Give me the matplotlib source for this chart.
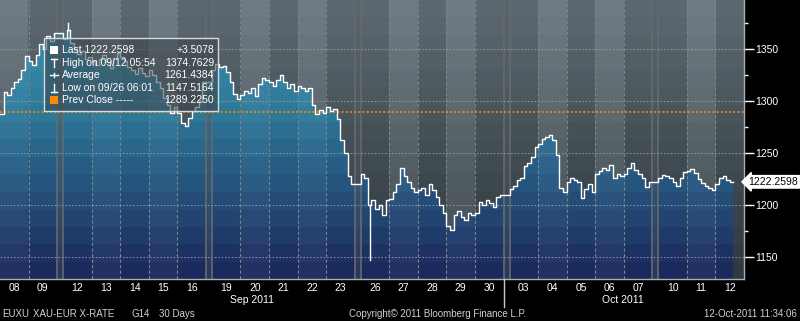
import numpy as np
import pandas as pd
import matplotlib.pyplot as plt
from matplotlib.lines import Line2D
from matplotlib.patches import Rectangle
from matplotlib.colors import to_rgb
import matplotlib.transforms as mtrans

plt.rcParams['font.family'] = ['Liberation Sans', 'DejaVu Sans']

# trading days on the chart
dates = pd.to_datetime([
    '2011-09-08', '2011-09-09',
    '2011-09-12', '2011-09-13', '2011-09-14', '2011-09-15', '2011-09-16',
    '2011-09-19', '2011-09-20', '2011-09-21', '2011-09-22', '2011-09-23',
    '2011-09-26', '2011-09-27', '2011-09-28', '2011-09-29', '2011-09-30',
    '2011-10-03', '2011-10-04', '2011-10-05', '2011-10-06', '2011-10-07',
    '2011-10-10', '2011-10-11', '2011-10-12'])

# 3-hour closes, one list per day
closes = [
    [1287, 1309, 1306, 1312, 1318, 1321, 1330, 1343],
    [1338, 1335, 1344, 1355, 1350, 1362, 1358, 1365],
    [1360, 1368, 1356, 1350, 1345, 1348, 1340, 1342],
    [1338, 1335, 1340, 1344, 1337, 1332, 1341, 1346],
    [1342, 1338, 1333, 1330, 1326, 1332, 1327, 1324],
    [1330, 1325, 1318, 1312, 1303, 1296, 1288, 1294],
    [1288, 1279, 1276, 1284, 1290, 1294, 1300, 1318],
    [1330, 1336, 1333, 1334, 1328, 1318, 1307, 1302],
    [1306, 1310, 1308, 1312, 1305, 1316, 1322, 1320],
    [1318, 1314, 1320, 1325, 1318, 1312, 1316, 1310],
    [1314, 1312, 1310, 1312, 1296, 1287, 1291, 1288],
    [1294, 1290, 1292, 1283, 1262, 1250, 1228, 1220],
    [1230, 1226, 1200, 1205, 1196, 1200, 1190, 1205],
    [1206, 1212, 1220, 1236, 1228, 1222, 1216, 1212],
    [1214, 1216, 1210, 1220, 1214, 1208, 1200, 1192],
    [1180, 1176, 1190, 1194, 1188, 1186, 1192, 1190],
    [1192, 1203, 1200, 1205, 1202, 1198, 1208, 1210],
    [1215, 1218, 1224, 1226, 1237, 1240, 1246, 1256],
    [1259, 1263, 1265, 1267, 1262, 1248, 1216, 1212],
    [1222, 1226, 1224, 1222, 1207, 1215, 1220, 1212],
    [1230, 1233, 1236, 1234, 1238, 1226, 1230, 1228],
    [1230, 1236, 1240, 1234, 1230, 1226, 1217, 1222],
    [1226, 1229, 1228, 1226, 1222, 1218, 1226, 1232],
    [1233, 1235, 1231, 1225, 1221, 1218, 1216, 1214],
    [1220, 1226, 1228, 1224, 1222.2598],
]

# extremes from the legend: (day index, bar index, value)
ext_day = [2, 12]
ext_bar = [1, 2]
ext_val = [1374.7629, 1147.5164]

prev_close = 1289.225
last_val = 1222.2598

legend_labels = ['Last 1222.2598', 'High on 09/12 05:54', 'Average',
                 'Low on 09/26 06:01', 'Prev Close -----']
legend_values = ['+3.5078', '1374.7629', '1261.4384', '1147.5164', '1289.2250']

y_major = [1150, 1200, 1250, 1300, 1350]
y_minor = [1175, 1225, 1275, 1325, 1375]

BARS = 8
GAP = 0.21  # weekend gap, in days
W, H = 800, 321


def fx(px):
    return px / W


def fy(py):
    return 1 - py / H


def ramp(stops, t):
    pos = [s[0] for s in stops]
    cols = np.array([to_rgb(s[1]) for s in stops])
    return np.stack([np.interp(t, pos, cols[:, c]) for c in range(3)], axis=-1)


# day start positions (weekends leave a small gap)
starts = []
s = 0.0
for i, d in enumerate(dates):
    if i > 0 and (d - dates[i - 1]).days > 1:
        s += GAP
    starts.append(s)
    s += 1
starts = np.array(starts)
xmax = starts[-1] + 1
ylo, yhi = 1128.8, 1397.1

# step line points
xs, ys = [], []
for k, vals in enumerate(closes):
    for j, v in enumerate(vals):
        xs.append(starts[k] + j / BARS)
        ys.append(v)
xs.append(xs[-1] + 1 / BARS)
ys.append(ys[-1])
xs = np.array(xs)
ys = np.array(ys)

fig = plt.figure(figsize=(W / 100, H / 100), dpi=100, facecolor='black')
ax = fig.add_axes([0, 42 / H, 744 / W, 279 / H])
ax.set_facecolor('black')
ax.set_xlim(0, xmax)
ax.set_ylim(ylo, yhi)

# column classes for the background images
nx = 1490
xg = (np.arange(nx) + 0.5) / nx * xmax
light = np.zeros(nx)
gap = np.ones(nx, dtype=bool)
for k, d in enumerate(dates):
    inside = (xg >= starts[k]) & (xg < starts[k] + 1)
    gap[inside] = False
    if d.dayofweek in (1, 3):
        light[inside] = 1

nb = 16
t = (np.arange(nb) + 0.5) / nb
bg = ramp([(0, '#5e6a72'), (0.5, '#454f56'), (1, '#2e383e')], t)
bg_img = bg[:, None, :] + light[None, :, None] * 0.075
bg_img[:, gap, :] = bg_img[:, gap, :] * 0.75 + np.array(to_rgb('#555d62')) * 0.25
ax.imshow(np.clip(bg_img, 0, 1), extent=(0, xmax, ylo, yhi), aspect='auto',
          interpolation='nearest', origin='upper', zorder=0)

fl = ramp([(0, '#3d98b4'), (0.4, '#2e7898'), (0.65, '#26567f'), (1, '#1b2659')], t)
fl_img = fl[:, None, :] + light[None, :, None] * 0.025
fl_img[:, gap, :] = fl_img[:, gap, :] * 0.7 + np.array(to_rgb('#4f575d')) * 0.3
im = ax.imshow(np.clip(fl_img, 0, 1), extent=(0, xmax, ylo, yhi), aspect='auto',
               interpolation='nearest', origin='upper', zorder=1)
poly = ax.fill_between(xs, ys, ylo, step='post', color='none', lw=0)
im.set_clip_path(poly.get_paths()[0], transform=ax.transData)

# day separators
for k in range(1, len(dates)):
    if starts[k] - starts[k - 1] > 1.01:
        for xv in (starts[k - 1] + 1, starts[k]):
            ax.axvline(xv, color='#636b70', lw=1.2, zorder=2)
    else:
        ax.axvline(starts[k], color='#7a8388', lw=0.8, ls=(0, (3, 2)), zorder=2)

# grid and previous close
for yv in y_major:
    ax.axhline(yv, color='#929aa0', lw=0.7, ls=(0, (1.5, 2)), zorder=3)
ax.axhline(prev_close, color='#ff8a00', lw=1.2, ls=(0, (1.2, 1.3)), zorder=3)

# price line and extreme wicks
ax.step(xs, ys, where='post', color='white', lw=1, zorder=5)
for dk, bj, v in zip(ext_day, ext_bar, ext_val):
    xm = starts[dk] + (bj + 0.5) / BARS
    ax.plot([xm, xm], [closes[dk][bj], v], color='white', lw=1, zorder=5)

# axes styling
for side in ('left', 'top'):
    ax.spines[side].set_visible(False)
for side in ('right', 'bottom'):
    ax.spines[side].set_color('#a8b0b4')
    ax.spines[side].set_linewidth(1)
    ax.spines[side].set_zorder(6)

ax.yaxis.tick_right()
ax.set_yticks(y_major)
ax.set_yticks(y_minor, minor=True)
ax.tick_params(axis='y', which='major', direction='out', length=7, width=1,
               color='white', labelcolor='white', labelsize=7.5, pad=1)
ax.tick_params(axis='y', which='minor', direction='out', length=3, width=1,
               color='white')
ax.set_xticks(starts + 0.5)
ax.set_xticklabels([d.strftime('%d') for d in dates])
ax.tick_params(axis='x', length=0, labelcolor='white', labelsize=7.5, pad=3)

# last value marker on the axis
ax.text(1.006, last_val, f'{last_val:.4f}',
        transform=mtrans.blended_transform_factory(ax.transAxes, ax.transData),
        ha='left', va='center', color='black', fontsize=7.5, zorder=7,
        clip_on=False,
        bbox=dict(boxstyle='larrow,pad=0.12', fc='white', ec='white'))

# month labels
fig.text(fx(252), fy(300), 'Sep 2011', color='white', fontsize=7.5,
         ha='center', va='center')
fig.text(fx(623), fy(300), 'Oct 2011', color='white', fontsize=7.5,
         ha='center', va='center')
fig.add_artist(Line2D([fx(504), fx(504)], [fy(279), fy(307)],
                      color='#c8c8c8', lw=1, transform=fig.transFigure))

# legend box
fig.add_artist(Rectangle((fx(44), fy(111)), fx(218) - fx(44), fy(38) - fy(111),
                         transform=fig.transFigure, fc='#3a444b', alpha=0.55,
                         ec='none', zorder=8))
fig.add_artist(Rectangle((fx(44), fy(111)), fx(218) - fx(44), fy(38) - fy(111),
                         transform=fig.transFigure, fc='none', ec='#d6dadc',
                         lw=1, zorder=9))
row_y = [50, 62.5, 75, 88, 100]
for i, (lab, val) in enumerate(zip(legend_labels, legend_values)):
    yy = fy(row_y[i])
    fig.text(fx(62), yy, lab, color='white', fontsize=7.5, va='center',
             ha='left', zorder=10)
    fig.text(fx(214), yy, val, color='white', fontsize=7.5, va='center',
             ha='right', zorder=10)

sq = dict(transform=fig.transFigure, zorder=10)
fig.add_artist(Rectangle((fx(50), fy(row_y[0] + 4)), fx(8), 8 / H,
                         fc='white', ec='none', **sq))
fig.add_artist(Rectangle((fx(50), fy(row_y[4] + 4)), fx(8), 8 / H,
                         fc='#ff8a00', ec='none', **sq))
lk = dict(color='white', lw=1, transform=fig.transFigure, zorder=10)
# high icon
fig.add_artist(Line2D([fx(51), fx(57)], [fy(row_y[1] - 4)] * 2, **lk))
fig.add_artist(Line2D([fx(54), fx(54)], [fy(row_y[1] - 4), fy(row_y[1] + 4)], **lk))
# average icon
fig.add_artist(Line2D([fx(50), fx(58)], [fy(row_y[2])] * 2, **lk))
fig.add_artist(Line2D([fx(54), fx(54)], [fy(row_y[2] - 2), fy(row_y[2] + 2)], **lk))
# low icon
fig.add_artist(Line2D([fx(51), fx(57)], [fy(row_y[3] + 4)] * 2, **lk))
fig.add_artist(Line2D([fx(54), fx(54)], [fy(row_y[3] - 4), fy(row_y[3] + 4)], **lk))

# footer
foot = dict(color='#d0d0d0', fontsize=7, va='center')
fig.text(fx(2), fy(314), 'EUXU', ha='left', **foot)
fig.text(fx(33), fy(314), 'XAU-EUR X-RATE', ha='left', **foot)
fig.text(fx(132), fy(314), 'G14', ha='left', **foot)
fig.text(fx(159), fy(314), '30 Days', ha='left', **foot)
fig.text(fx(349), fy(314), 'Copyright\u00a9 2011 Bloomberg Finance L.P.', ha='left', **foot)
fig.text(fx(797), fy(314), '12-Oct-2011 11:34:06', ha='right', **foot)

fig.savefig('out.png', dpi=100, facecolor='black')
